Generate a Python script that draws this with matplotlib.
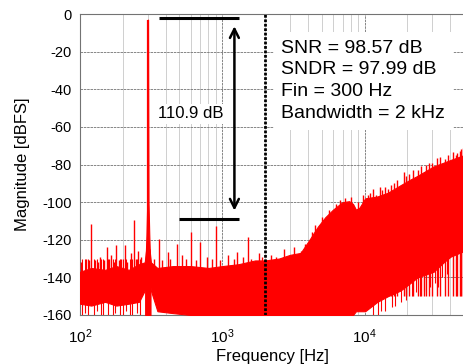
import matplotlib
matplotlib.use("Agg")
import matplotlib.pyplot as plt
from matplotlib.ticker import LogLocator, LogFormatterMathtext, NullFormatter

plt.rcParams['font.family'] = ['Liberation Sans', 'DejaVu Sans']
plt.rcParams['mathtext.fontset'] = 'custom'
plt.rcParams['mathtext.rm'] = 'Liberation Sans'
plt.rcParams['mathtext.it'] = 'Liberation Sans'
plt.rcParams['axes.unicode_minus'] = False

# noise floor band: frequency [Hz], upper and lower edge [dBFS]
noise_freq = [100, 120, 150, 180, 220, 260, 285, 292, 308, 315, 350, 450, 600, 800,
              1000, 1300, 1700, 2000, 2500, 3000, 3550, 4100, 4700, 5300, 6000, 7000,
              7800, 8300, 8700, 9200, 10100, 12300, 14600, 17900, 21000, 23600, 30600,
              36000, 40200, 50000]
noise_top = [-137, -135, -136, -134, -136, -133, -132, -125, -125, -132, -135, -134,
             -134, -135, -134, -133, -131, -131, -130, -128, -127, -120, -113, -108,
             -104, -100, -99.5, -101, -104, -103, -98, -97, -95, -91, -88, -86, -81,
             -79, -77.6, -75]
noise_bot = [-154, -155, -153, -155, -154, -153, -147, -140, -140, -147, -158, -159,
             -160, -160, -160, -160, -160, -160, -160, -160, -160, -160, -160, -160,
             -160, -160, -160, -160, -158, -158, -158, -153, -150, -147, -143, -140,
             -137, -132, -129, -126]

# spurs sticking out of the noise floor
spur_freq = [102, 110, 115, 119.5, 128, 133, 138, 148, 155, 160, 165, 172, 179, 188,
             195, 207, 214, 230, 240, 248, 255, 270, 330, 360, 380, 416, 430, 483,
             520, 560, 605, 650, 700, 780, 850, 907, 960, 1100, 1200, 1270, 1400,
             1525, 1600, 1800, 1900, 2200, 2400, 2700, 3200, 3600, 3800, 4300, 4500,
             5000, 5600, 6300, 6700, 7300, 8000, 9000, 9700, 10600, 11000, 11500,
             12000, 12800, 13300, 14000, 14700, 15300, 16000, 17000, 18800, 19500,
             20500, 22000, 23900, 25000, 26000, 27000, 28500, 30000, 32500, 34000,
             36500, 38500, 42000, 44000, 45000, 47000, 48000, 49500]
spur_level = [-132, -130, -131, -111.6, -131, -132, -129, -131, -124, -130, -128, -132,
              -123, -131, -130, -123, -132, -127, -109.5, -130, -126, -129, -130,
              -119.6, -131, -126.5, -130, -122, -128, -130, -116, -131, -121, -129,
              -130, -112.7, -131, -128, -130, -126.5, -129, -118.6, -130, -127, -129,
              -128, -129, -125, -124, -126, -122, -116, -112, -108, -104, -101, -99,
              -98, -97.5, -100, -96, -96, -95, -93, -96, -92, -93.6, -92, -93, -91,
              -90, -88, -84, -86, -85, -83, -82.7, -81, -84, -80, -79, -79, -76.7,
              -76, -77, -75, -73.5, -75, -74, -73, -72, -71]

# dips of the noise reaching below the band
dip_freq = [103, 108, 113, 125, 131, 140, 145, 158, 170, 176, 192, 200, 210, 225,
            232, 250, 265, 11500, 12500, 13000, 14000, 15500, 16500, 18000, 19500,
            21500, 23000, 24500, 26000, 29000, 31500, 33000, 35000, 38000, 42000,
            44000, 47000]
dip_level = [-160, -159, -160, -160, -158, -160, -160, -160, -160, -159, -160, -160,
             -158, -160, -160, -159, -160, -160, -160, -158, -158, -156, -155, -153,
             -152, -150, -148, -150, -147, -145, -143, -145, -140, -138, -140, -136,
             -137]

# input tone at 300 Hz
tone_freq = [287, 293, 297, 299.5, 300.5, 303, 307, 313]
tone_level = [-138, -118, -100, -3, -3, -100, -118, -138]

snr_text = "SNR = 98.57 dB\nSNDR = 97.99 dB\nFin = 300 Hz\nBandwidth = 2 kHz"

fig = plt.figure(figsize=(4.64, 3.64), dpi=100)
ax = fig.add_axes([80 / 464, 1 - 315 / 364, 384 / 464, 301 / 364])

red = '#ff0000'
ax.fill_between(noise_freq, noise_top, noise_bot, color=red, lw=0.8, zorder=3)
ax.vlines(spur_freq, -150, spur_level, color=red, lw=1.0, zorder=3)
ax.vlines(dip_freq, -130, dip_level, color=red, lw=0.8, zorder=3)
ax.fill_between(tone_freq, tone_level, -160, color=red, lw=0.8, zorder=3)
ax.vlines([300], -160, -3, color=red, lw=1.6, zorder=3)

# bandwidth marker and dynamic range annotation
ax.axvline(2000, color='black', lw=2.0, ls=(0, (1.0, 0.6)), zorder=4)
ax.hlines(-2.1, 360, 1320, color='black', lw=2.2, zorder=4)
ax.hlines(-109, 498, 1320, color='black', lw=2.2, zorder=4)
ax.annotate('', xy=(1217, -6.5), xytext=(1217, -104.5),
            arrowprops=dict(arrowstyle='<->', color='black', lw=1.8,
                            mutation_scale=16, shrinkA=0, shrinkB=0), zorder=4)
ax.text(605, -53, '110.9 dB', fontsize=12, ha='center', va='center', zorder=5,
        bbox=dict(boxstyle='square,pad=0.15', fc='white', ec='none'))
ax.text(2603, -35.5, snr_text, fontsize=14, ha='left', va='center', linespacing=1.36,
        zorder=5, bbox=dict(boxstyle='square,pad=0.4', fc='white', ec='none'))

ax.set_xscale('log')
ax.set_xlim(100, 50000)
ax.set_ylim(-160, 0)
ax.set_yticks(range(-160, 1, 20))
ax.xaxis.set_major_locator(LogLocator(base=10))
ax.xaxis.set_major_formatter(LogFormatterMathtext())
ax.xaxis.set_minor_locator(LogLocator(base=10, subs=range(2, 10)))
ax.xaxis.set_minor_formatter(NullFormatter())

ax.grid(True, which='major', color='0.45', lw=0.6, ls=(0, (3, 1)), zorder=0)
ax.grid(True, which='minor', axis='x', color='0.78', lw=0.6, zorder=0)
ax.set_axisbelow(True)
ax.tick_params(which='both', length=0)
ax.tick_params(axis='y', labelsize=10.5, pad=6)
ax.tick_params(axis='x', labelsize=11, pad=9)
for side in ['left', 'bottom', 'top', 'right']:
    ax.spines[side].set_color('0.45')
    ax.spines[side].set_linewidth(0.8)

ax.set_xlabel('Frequency [Hz]', fontsize=12, labelpad=2)
ax.set_ylabel('Magnitude [dBFS]', fontsize=12)
ax.yaxis.set_label_coords(-0.13, 0.5)

fig.savefig('out.png', dpi=100)
